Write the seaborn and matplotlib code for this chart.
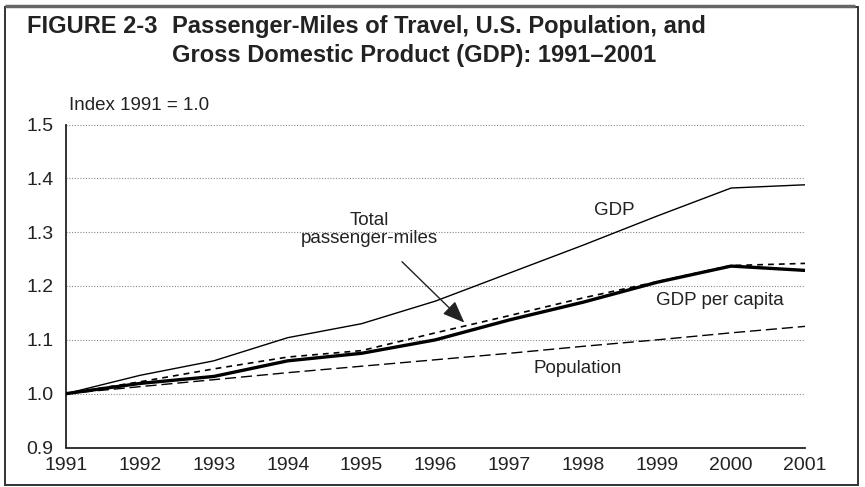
import numpy as np
import pandas as pd
import seaborn as sns
import matplotlib.pyplot as plt
from matplotlib import font_manager
from matplotlib.patches import Rectangle

# values (index 1991 = 1.0)
years = list(range(1991, 2002))
gdp = [1.000, 1.034, 1.061, 1.104, 1.130, 1.172, 1.224, 1.276, 1.330, 1.382, 1.388]
total_pm = [1.000, 1.022, 1.046, 1.068, 1.080, 1.113, 1.145, 1.178, 1.208, 1.238, 1.242]
gdp_per_capita = [1.000, 1.019, 1.032, 1.061, 1.075, 1.100, 1.137, 1.170, 1.207, 1.237, 1.229]
population = [1.000, 1.013, 1.026, 1.039, 1.051, 1.063, 1.075, 1.088, 1.100, 1.113, 1.125]

y_ticks = [0.9, 1.0, 1.1, 1.2, 1.3, 1.4, 1.5]

sns.set_style('white')

installed = {f.name for f in font_manager.fontManager.ttflist}
narrow = 'Liberation Sans Narrow' if 'Liberation Sans Narrow' in installed else 'Liberation Sans'
plt.rcParams['font.family'] = [narrow, 'DejaVu Sans']

df = pd.DataFrame({
    'Year': years * 4,
    'Index': gdp + total_pm + gdp_per_capita + population,
    'Series': (['GDP'] * 11 + ['Total passenger-miles'] * 11
               + ['GDP per capita'] * 11 + ['Population'] * 11),
})

styles = {
    'GDP': dict(lw=1.0, ls='-'),
    'Total passenger-miles': dict(lw=1.2, ls=(0, (3.5, 3))),
    'GDP per capita': dict(lw=2.4, ls='-'),
    'Population': dict(lw=1.0, ls=(0, (8, 3.5))),
}

fig = plt.figure(figsize=(8.65, 4.87), dpi=100)
ax = fig.add_axes([66 / 865, 1 - 447.5 / 487, (805 - 66) / 865, (447.5 - 124.5) / 487])

for name in ['Population', 'GDP', 'Total passenger-miles', 'GDP per capita']:
    sub = df[df['Series'] == name]
    sns.lineplot(x='Year', y='Index', data=sub, ax=ax, color='black',
                 linewidth=styles[name]['lw'], linestyle=styles[name]['ls'],
                 legend=False, zorder=3)

ax.set_xlim(1991, 2001)
ax.set_ylim(0.9, 1.5)
ax.set_xticks(years)
ax.set_xticklabels([str(y) for y in years])
ax.set_yticks(y_ticks)
ax.set_yticklabels([f'{v:.1f}' for v in y_ticks])
ax.set_xlabel('')
ax.set_ylabel('')

for v in y_ticks[1:]:
    ax.axhline(v, color='#888888', lw=0.8, ls=(0, (1, 1.5)), zorder=1)

for side in ['top', 'right']:
    ax.spines[side].set_visible(False)
for side in ['left', 'bottom']:
    ax.spines[side].set_color('#222222')
    ax.spines[side].set_linewidth(1.3)

ax.tick_params(axis='x', direction='in', length=9, width=1.2, color='#222222',
               labelsize=14, pad=7, labelcolor='#222222')
ax.tick_params(axis='y', length=0, labelsize=14, pad=9, labelcolor='#222222')

# series labels
lab = dict(fontsize=13.5, color='#222222', family=[narrow, 'DejaVu Sans'])
ax.text(1998.42, 1.34, 'GDP', ha='center', va='center', **lab)
ax.text(1999.85, 1.173, 'GDP per capita', ha='center', va='center', **lab)
ax.text(1997.93, 1.047, 'Population', ha='center', va='center', **lab)
ax.annotate('Total\npassenger-miles', xy=(1996.39, 1.132), xytext=(1995.1, 1.305),
            ha='center', va='center', linespacing=1.05, **lab,
            arrowprops=dict(arrowstyle='-|>,head_length=1.0,head_width=0.4',
                            color='#222222', lw=1.0, shrinkA=12, shrinkB=0))

fig.text(69 / 865, 1 - 105 / 487, 'Index 1991 = 1.0', ha='left', va='center', **lab)

# title
bold = dict(fontsize=17, fontweight='bold', color='#222222', family=['Liberation Sans', 'DejaVu Sans'])
fig.text(27 / 865, 1 - 33 / 487, 'FIGURE 2-3', ha='left', va='baseline', **bold)
fig.text(172 / 865, 1 - 33 / 487, 'Passenger-Miles of Travel, U.S. Population, and',
         ha='left', va='baseline', **bold)
fig.text(172 / 865, 1 - 62 / 487, 'Gross Domestic Product (GDP): 1991\u20132001',
         ha='left', va='baseline', **bold)

# frame around the figure
fig.patches.append(Rectangle((5 / 865, 2 / 487), 853 / 865, 478 / 487,
                             transform=fig.transFigure, fill=False,
                             edgecolor='#333333', lw=1.4))
fig.patches.append(Rectangle((5 / 865, 1 - 6 / 487), 850 / 865, 0,
                             transform=fig.transFigure, fill=False,
                             edgecolor='#666666', lw=2.5))

fig.savefig('out.png', dpi=100)
